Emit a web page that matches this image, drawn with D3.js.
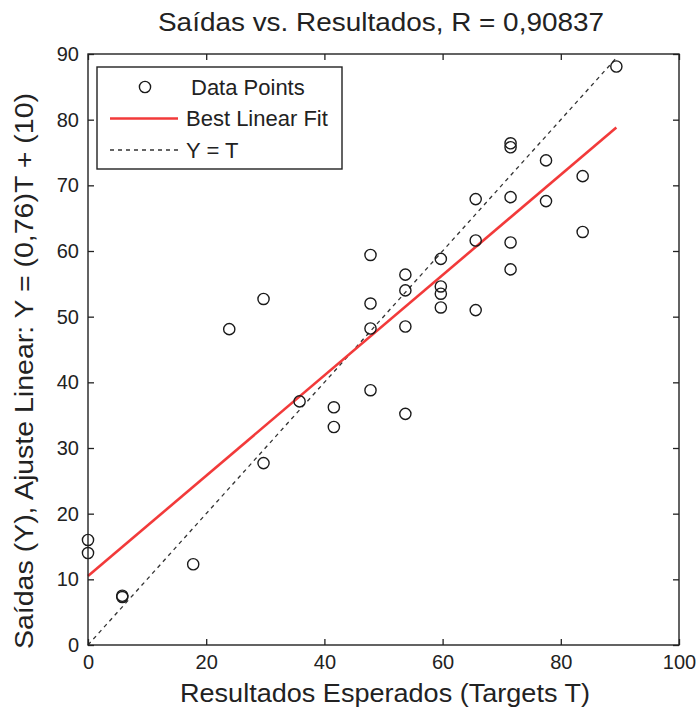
<!DOCTYPE html>
<html>
<head>
<meta charset="utf-8">
<script src="https://cdn.jsdelivr.net/npm/d3@7"></script>
<style>
  html, body { margin: 0; padding: 0; background: #fff; }
  svg text { font-family: "Liberation Sans", Arial, Helvetica, sans-serif; fill: #222; }
</style>
</head>
<body>
<svg id="chart" width="698" height="709"></svg>
<script>
// ---- data ----
const targets = [0, 0, 5.8, 5.8, 17.8, 23.9, 29.7, 29.7, 35.8, 41.6, 41.6,
  47.8, 47.8, 47.8, 47.8, 53.7, 53.7, 53.7, 53.7, 59.7, 59.7, 59.7, 59.7,
  65.6, 65.6, 65.6, 71.5, 71.5, 71.5, 71.5, 71.5, 77.5, 77.5, 83.7, 83.7, 89.4];
const outputs = [16.0, 14.0, 7.5, 7.3, 12.3, 48.1, 52.7, 27.7, 37.1, 36.2, 33.2,
  59.4, 52.0, 48.2, 38.8, 56.4, 54.0, 48.5, 35.2, 58.8, 54.6, 53.5, 51.4,
  67.9, 61.6, 51.0, 76.4, 75.8, 68.2, 61.3, 57.2, 73.8, 67.6, 71.4, 62.9, 88.1];
const fitSlope = [0.764];
const fitIntercept = [10.5];
const xTicks = [0, 20, 40, 60, 80, 100];
const yTicks = [0, 10, 20, 30, 40, 50, 60, 70, 80, 90];
const legendLabels = ["Data Points", "Best Linear Fit", "Y = T"];
const titleText = "Saídas vs. Resultados, R = 0,90837";
const xLabelText = "Resultados Esperados (Targets T)";
const yLabelText = "Saídas (Y), Ajuste Linear: Y = (0,76)T + (10)";

(function () {
// ---- layout ----
const svg = d3.select("#chart");
const pL = 88, pR = 679, pT = 54, pB = 645;
const x = d3.scaleLinear().domain([0, 100]).range([pL, pR]);
const y = d3.scaleLinear().domain([0, 90]).range([pB, pT]);

// Y = T dotted line
const tMin = d3.min(targets), tMax = d3.max(targets);
svg.append("line")
  .attr("x1", x(tMin)).attr("y1", y(tMin))
  .attr("x2", x(tMax)).attr("y2", y(tMax))
  .attr("stroke", "#333").attr("stroke-width", 1.3)
  .attr("stroke-dasharray", "4,4");

// best linear fit
const fit = t => fitSlope[0] * t + fitIntercept[0];
svg.append("line")
  .attr("x1", x(tMin)).attr("y1", y(fit(tMin)))
  .attr("x2", x(tMax)).attr("y2", y(fit(tMax)))
  .attr("stroke", "#f23a3a").attr("stroke-width", 2.6);

// data points
svg.append("g").selectAll("circle")
  .data(targets.map((t, i) => [t, outputs[i]]))
  .join("circle")
  .attr("cx", d => x(d[0])).attr("cy", d => y(d[1]))
  .attr("r", 5.6)
  .attr("fill", "none").attr("stroke", "#1a1a1a").attr("stroke-width", 1.4);

// axes (inward ticks, box)
const tickLen = 6;
const gx = svg.append("g").attr("transform", `translate(0,${pB})`)
  .call(d3.axisBottom(x).tickValues(xTicks).tickSizeInner(-tickLen).tickSizeOuter(0).tickPadding(10));
const gy = svg.append("g").attr("transform", `translate(${pL},0)`)
  .call(d3.axisLeft(y).tickValues(yTicks).tickSizeInner(-tickLen).tickSizeOuter(0).tickPadding(9));
const gxt = svg.append("g").attr("transform", `translate(0,${pT})`)
  .call(d3.axisTop(x).tickValues(xTicks).tickSizeInner(-tickLen).tickSizeOuter(0).tickFormat(""));
const gyr = svg.append("g").attr("transform", `translate(${pR},0)`)
  .call(d3.axisRight(y).tickValues(yTicks).tickSizeInner(-tickLen).tickSizeOuter(0).tickFormat(""));
[gx, gy, gxt, gyr].forEach(g => {
  g.select(".domain").remove();
  g.selectAll("line").attr("stroke", "#222").attr("stroke-width", 1.3);
  g.selectAll("text").style("font-size", "20px").attr("fill", "#222")
    .style("font-family", '"Liberation Sans", Arial, sans-serif');
});
gx.selectAll("text").attr("dy", "0.71em");
svg.append("rect")
  .attr("x", pL).attr("y", pT)
  .attr("width", pR - pL).attr("height", pB - pT)
  .attr("fill", "none").attr("stroke", "#222").attr("stroke-width", 1.4);

// title and axis labels
svg.append("text").attr("x", 381).attr("y", 31)
  .attr("text-anchor", "middle").style("font-size", "26px")
  .attr("textLength", 446).attr("lengthAdjust", "spacingAndGlyphs")
  .text(titleText);
svg.append("text").attr("x", 385).attr("y", 702)
  .attr("text-anchor", "middle").style("font-size", "26px")
  .attr("textLength", 410).attr("lengthAdjust", "spacingAndGlyphs")
  .text(xLabelText);
svg.append("text")
  .attr("transform", "translate(33,371) rotate(-90)")
  .attr("text-anchor", "middle").style("font-size", "26px")
  .attr("textLength", 556).attr("lengthAdjust", "spacingAndGlyphs")
  .text(yLabelText);

// legend
const lg = svg.append("g");
lg.append("rect").attr("x", 97).attr("y", 67).attr("width", 245).attr("height", 102)
  .attr("fill", "#fff").attr("stroke", "#222").attr("stroke-width", 1.4);
const rowY = d3.scalePoint().domain(legendLabels).range([87, 150]);
lg.append("circle").attr("cx", 145).attr("cy", rowY(legendLabels[0])).attr("r", 5.6)
  .attr("fill", "none").attr("stroke", "#1a1a1a").attr("stroke-width", 1.4);
lg.append("line").attr("x1", 110).attr("x2", 178)
  .attr("y1", rowY(legendLabels[1])).attr("y2", rowY(legendLabels[1]))
  .attr("stroke", "#f23a3a").attr("stroke-width", 2.6);
lg.append("line").attr("x1", 110).attr("x2", 178)
  .attr("y1", rowY(legendLabels[2])).attr("y2", rowY(legendLabels[2]))
  .attr("stroke", "#333").attr("stroke-width", 1.3).attr("stroke-dasharray", "4,4");
const legendX = [191, 186, 186];
lg.selectAll("text.lt").data(legendLabels).join("text").attr("class", "lt")
  .attr("x", (d, i) => legendX[i]).attr("y", d => rowY(d))
  .attr("dy", "0.36em").style("font-size", "22px")
  .text(d => d);
})();
</script>
</body>
</html>
